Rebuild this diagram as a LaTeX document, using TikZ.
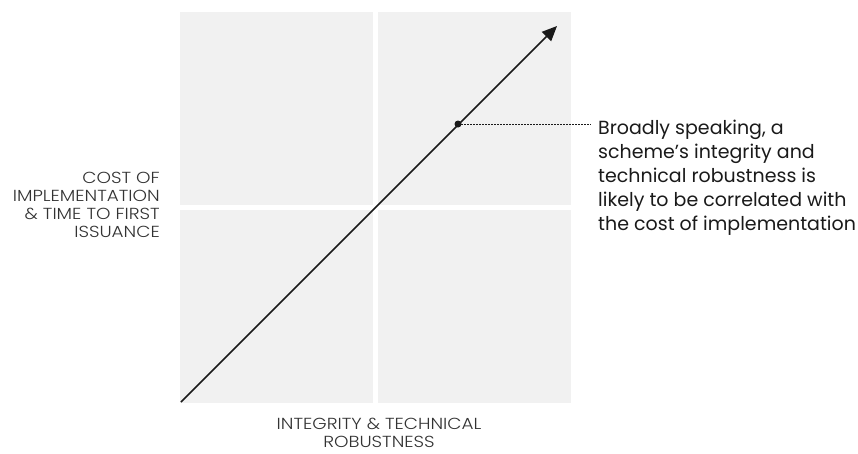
\documentclass[tikz,border=0pt]{standalone}
\usepackage{fontspec}
\setmainfont{Poppins}
\newfontfamily\lightfont{Poppins Light}[FakeStretch=1.15]
\usetikzlibrary{arrows.meta}
\definecolor{panel}{HTML}{F1F1F1}
\definecolor{ink}{HTML}{1A1A1A}
\definecolor{labelink}{HTML}{333333}
\begin{document}
\begin{tikzpicture}[x=1pt,y=-1pt,
  panelbox/.style={fill=panel, draw=none},
  axislabel/.style={font=\lightfont\fontsize{16}{18.3}\selectfont, text=labelink, inner sep=0pt},
  note/.style={font=\fontsize{19}{24}\selectfont, text=ink, inner sep=0pt, align=left},
  trend/.style={line width=1.5pt, draw=ink, -{Triangle[length=15pt,width=13pt]}},
  leader/.style={draw=ink, line width=0.9pt, dash pattern=on 1.5pt off 1.5pt},
  dotmark/.style={circle, fill=ink, inner sep=0pt, minimum size=7pt}]
\useasboundingbox (0,0) rectangle (858,453);
\fill[white] (0,0) rectangle (858,453);
% the four quadrants
\fill[panelbox] (180,12) rectangle (373,205);
\fill[panelbox] (378,12) rectangle (571,205);
\fill[panelbox] (180,210) rectangle (373,403);
\fill[panelbox] (378,210) rectangle (571,403);
% diagonal trend
\coordinate (origin) at (181,402);
\coordinate (tip) at (557,26);
\draw[trend] (origin) -- (tip);
% highlighted point and its note
\node[dotmark] (mark) at (458,124) {};
\node[note, anchor=north west] (remark) at (598,119.5)
  {Broadly speaking, a\\scheme’s integrity and\\technical robustness is\\likely to be correlated with\\the cost of implementation};
\draw[leader, shorten >=7pt] (mark.center) -- (remark.west |- mark.center);
% axis labels
\node[axislabel, anchor=north east, align=right] (ylabel) at (160,171.5)
  {COST OF\\IMPLEMENTATION\\\&~TIME TO FIRST\\ISSUANCE};
\node[axislabel, anchor=north, align=center] (xlabel) at (379,418)
  {INTEGRITY \&~TECHNICAL\\ROBUSTNESS};
\end{tikzpicture}
\end{document}
